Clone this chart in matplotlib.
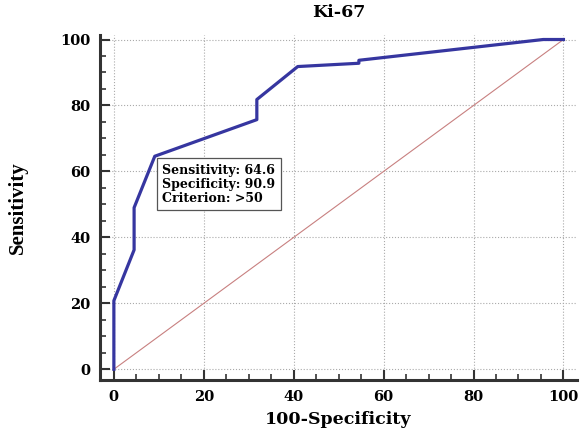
import matplotlib.pyplot as plt
from matplotlib.ticker import MultipleLocator

# ROC points (100-Specificity, Sensitivity)
fpr = [0, 0, 4.5, 4.5, 9.1, 31.8, 31.8, 40.9, 54.5, 54.5, 95.5, 100]
tpr = [0, 20.8, 36.2, 49.0, 64.6, 75.7, 81.8, 91.8, 92.8, 93.7, 100, 100]
diag = [0, 100]
box_text = "Sensitivity: 64.6\nSpecificity: 90.9\nCriterion: >50"

plt.rcParams['font.family'] = 'DejaVu Serif'

fig = plt.figure(figsize=(5.81, 4.32), dpi=100)
ax = fig.add_axes([0.172, 0.12, 0.821, 0.80])

ax.plot(diag, diag, color='#c88080', lw=0.8, zorder=2)
ax.plot(fpr, tpr, color='#3636a0', lw=2.3, zorder=3)

ax.set_xlim(-3.1, 103)
ax.set_ylim(-3.3, 101.5)
ax.xaxis.set_major_locator(MultipleLocator(20))
ax.yaxis.set_major_locator(MultipleLocator(20))
ax.xaxis.set_minor_locator(MultipleLocator(5))
ax.yaxis.set_minor_locator(MultipleLocator(5))
ax.grid(True, which='major', color='#aaaaaa', ls=':', lw=0.8)

for s in ['top', 'right']:
    ax.spines[s].set_visible(False)
for s in ['left', 'bottom']:
    ax.spines[s].set_linewidth(2.2)
    ax.spines[s].set_color('#333333')
ax.tick_params(which='major', direction='in', length=7, width=1.5, color='#333333')
ax.tick_params(which='minor', direction='in', length=4, width=1.2, color='#333333')
ax.tick_params(axis='both', labelsize=10.5, pad=7)
for lab in ax.get_xticklabels() + ax.get_yticklabels():
    lab.set_fontweight('bold')

ax.set_title('Ki-67', fontsize=12.5, fontweight='bold', pad=13)
ax.set_xlabel('100-Specificity', fontsize=12.5, fontweight='bold', labelpad=5)
ax.set_ylabel('Sensitivity', fontsize=15, family='Liberation Serif',
              fontweight='bold', labelpad=23)

ax.text(10.8, 62.4, box_text, fontsize=9, fontweight='bold', va='top', ha='left',
        linespacing=1.1, zorder=4,
        bbox=dict(boxstyle='square,pad=0.45', fc='white', ec='#555555', lw=0.9))

fig.savefig('out.png', dpi=100)
